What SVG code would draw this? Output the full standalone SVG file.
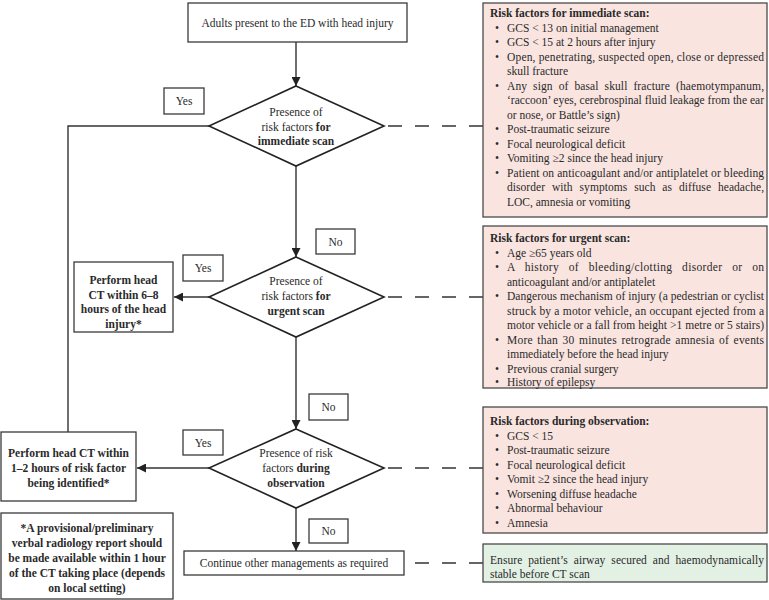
<svg xmlns="http://www.w3.org/2000/svg" width="769" height="600" viewBox="0 0 769 600">
<style>
text{font-family:"Liberation Serif","Times New Roman",serif;font-size:11.5px;fill:#2a2a2a}
.b{font-weight:bold}
.c{text-anchor:middle}
.box{fill:#fff;stroke:#3a3a3a;stroke-width:1.3}
.pink{fill:#f9e4e0;stroke:#4a4a4a;stroke-width:1.3}
.green{fill:#e3f1e5;stroke:#4a4a4a;stroke-width:1.3}
.dia{fill:#fff;stroke:#222;stroke-width:1.6}
.ln{fill:none;stroke:#333;stroke-width:1.4}
.dash{fill:none;stroke:#333;stroke-width:1.3;stroke-dasharray:14 13}
</style>
<defs>
<marker id="arr" markerUnits="userSpaceOnUse" markerWidth="10" markerHeight="9" refX="9" refY="4.5" orient="auto">
<path d="M0,0 L9,4.5 L0,9 z" fill="#222"/>
</marker>
</defs>

<g id="connectors">
<line class="ln" x1="296" y1="42" x2="296" y2="86" marker-end="url(#arr)"/>
<line class="ln" x1="296" y1="166" x2="296" y2="257" marker-end="url(#arr)"/>
<line class="ln" x1="296" y1="337" x2="296" y2="429" marker-end="url(#arr)"/>
<line class="ln" x1="296" y1="508" x2="296" y2="551" marker-end="url(#arr)"/>
<polyline class="ln" points="209,126 68,126 68,432"/>
<line class="ln" x1="209" y1="297" x2="174" y2="297" marker-end="url(#arr)"/>
<line class="ln" x1="209" y1="468" x2="137" y2="468" marker-end="url(#arr)"/>
<line class="dash" x1="483" y1="126" x2="384" y2="126"/>
<line class="dash" x1="483" y1="297" x2="384" y2="297"/>
<line class="dash" x1="483" y1="468" x2="384" y2="468"/>
<line class="dash" x1="483" y1="563" x2="404" y2="563"/>
</g>

<g id="start">
<rect class="box" x="188" y="3" width="219" height="39"/>
<text class="c" x="297.5" y="26.5">Adults present to the ED with head injury</text>
</g>

<g id="d1">
<polygon class="dia" points="296,86 384,126 296,166 209,126"/>
<text class="c" x="296" y="116">Presence of</text>
<text class="c" x="296" y="130.5">risk factors <tspan class="b">for</tspan></text>
<text class="c b" x="296" y="145">immediate scan</text>
</g>

<g id="d2">
<polygon class="dia" points="296,257 384,297 296,337 209,297"/>
<text class="c" x="296" y="285">Presence of</text>
<text class="c" x="296" y="300">risk factors <tspan class="b">for</tspan></text>
<text class="c b" x="296" y="315">urgent scan</text>
</g>

<g id="d3">
<polygon class="dia" points="296,429 384,468 296,508 209,468"/>
<text class="c" x="296" y="457">Presence of risk</text>
<text class="c" x="296" y="472">factors <tspan class="b">during</tspan></text>
<text class="c b" x="296" y="487">observation</text>
</g>

<g id="yes1"><rect class="box" x="164" y="88" width="40" height="26"/><text class="c" x="184" y="105">Yes</text></g>
<g id="yes2"><rect class="box" x="183" y="255" width="40" height="26"/><text class="c" x="203" y="272">Yes</text></g>
<g id="yes3"><rect class="box" x="183" y="430" width="40" height="25"/><text class="c" x="203" y="446.5">Yes</text></g>
<g id="no1"><rect class="box" x="316" y="229" width="39" height="25"/><text class="c" x="335.5" y="245.5">No</text></g>
<g id="no2"><rect class="box" x="309" y="394" width="39" height="26"/><text class="c" x="328.5" y="411">No</text></g>
<g id="no3"><rect class="box" x="309" y="519" width="39" height="24"/><text class="c" x="328.5" y="535">No</text></g>

<g id="urgent-ct">
<rect class="box" x="74" y="262" width="99" height="70"/>
<text class="c b" x="123.5" y="284">Perform head</text>
<text class="c b" x="123.5" y="298.5">CT within 6–8</text>
<text class="c b" x="123.5" y="313">hours of the head</text>
<text class="c b" x="123.5" y="327.5">injury*</text>
</g>

<g id="obs-ct">
<rect class="box" x="1" y="432" width="135" height="69"/>
<text class="c b" x="68.5" y="457">Perform head CT within</text>
<text class="c b" x="68.5" y="472">1–2 hours of risk factor</text>
<text class="c b" x="68.5" y="487">being identified*</text>
</g>

<g id="footnote">
<rect class="box" x="1" y="513" width="172" height="86"/>
<text class="c b" x="87" y="532">*A provisional/preliminary</text>
<text class="c b" x="87" y="547">verbal radiology report should</text>
<text class="c b" x="87" y="562">be made available within 1 hour</text>
<text class="c b" x="87" y="577">of the CT taking place (depends</text>
<text class="c b" x="87" y="592">on local setting)</text>
</g>

<g id="continue">
<rect class="box" x="184" y="551" width="220" height="24"/>
<text class="c" x="294" y="567">Continue other managements as required</text>
</g>

<g id="rf-immediate">
<rect class="pink" x="483" y="3" width="284" height="214"/>
<text class="b" x="490" y="17">Risk factors for immediate scan:</text>
<text x="495" y="31.5">•</text><text x="507" y="31.5">GCS &lt; 13 on initial management</text>
<text x="495" y="46">•</text><text x="507" y="46">GCS &lt; 15 at 2 hours after injury</text>
<text x="495" y="60.5">•</text><text x="507" y="60.5" textLength="257" lengthAdjust="spacing">Open, penetrating, suspected open, close or depressed</text>
<text x="507" y="75">skull fracture</text>
<text x="495" y="89.5">•</text><text x="507" y="89.5" word-spacing="3" textLength="257" lengthAdjust="spacing">Any sign of basal skull fracture (haemotympanum,</text>
<text x="507" y="104" textLength="257" lengthAdjust="spacing">‘raccoon’ eyes, cerebrospinal fluid leakage from the ear</text>
<text x="507" y="118.5">or nose, or Battle’s sign)</text>
<text x="495" y="133">•</text><text x="507" y="133">Post-traumatic seizure</text>
<text x="495" y="147.5">•</text><text x="507" y="147.5">Focal neurological deficit</text>
<text x="495" y="162">•</text><text x="507" y="162">Vomiting ≥2 since the head injury</text>
<text x="495" y="176.5">•</text><text x="507" y="176.5" textLength="257" lengthAdjust="spacing">Patient on anticoagulant and/or antiplatelet or bleeding</text>
<text x="507" y="191" word-spacing="4" textLength="257" lengthAdjust="spacing">disorder with symptoms such as diffuse headache,</text>
<text x="507" y="205.5">LOC, amnesia or vomiting</text>
</g>

<g id="rf-urgent">
<rect class="pink" x="483" y="226" width="284" height="162"/>
<text class="b" x="490" y="242">Risk factors for urgent scan:</text>
<text x="495" y="256.5">•</text><text x="507" y="256.5">Age ≥65 years old</text>
<text x="495" y="271">•</text><text x="507" y="271" word-spacing="6.5" textLength="257" lengthAdjust="spacing">A history of bleeding/clotting disorder or on</text>
<text x="507" y="285.5">anticoagulant and/or antiplatelet</text>
<text x="495" y="300">•</text><text x="507" y="300" textLength="257" lengthAdjust="spacing">Dangerous mechanism of injury (a pedestrian or cyclist</text>
<text x="507" y="314.5" textLength="257" lengthAdjust="spacing">struck by a motor vehicle, an occupant ejected from a</text>
<text x="507" y="329" textLength="257" lengthAdjust="spacing">motor vehicle or a fall from height &gt;1 metre or 5 stairs)</text>
<text x="495" y="343.5">•</text><text x="507" y="343.5" word-spacing="1.5" textLength="257" lengthAdjust="spacing">More than 30 minutes retrograde amnesia of events</text>
<text x="507" y="358">immediately before the head injury</text>
<text x="495" y="372.5">•</text><text x="507" y="372.5">Previous cranial surgery</text>
<text x="495" y="386">•</text><text x="507" y="386">History of epilepsy</text>
</g>

<g id="rf-observation">
<rect class="pink" x="483" y="407" width="284" height="126"/>
<text class="b" x="490" y="425">Risk factors during observation:</text>
<text x="495" y="439.5">•</text><text x="507" y="439.5">GCS &lt; 15</text>
<text x="495" y="454">•</text><text x="507" y="454">Post-traumatic seizure</text>
<text x="495" y="468.5">•</text><text x="507" y="468.5">Focal neurological deficit</text>
<text x="495" y="483">•</text><text x="507" y="483">Vomit ≥2 since the head injury</text>
<text x="495" y="497.5">•</text><text x="507" y="497.5">Worsening diffuse headache</text>
<text x="495" y="512">•</text><text x="507" y="512">Abnormal behaviour</text>
<text x="495" y="526.5">•</text><text x="507" y="526.5">Amnesia</text>
</g>

<g id="airway">
<rect class="green" x="483" y="544" width="284" height="38"/>
<text x="490" y="564" word-spacing="3" textLength="274" lengthAdjust="spacing">Ensure patient’s airway secured and haemodynamically</text>
<text x="490" y="577.5">stable before CT scan</text>
</g>
</svg>
